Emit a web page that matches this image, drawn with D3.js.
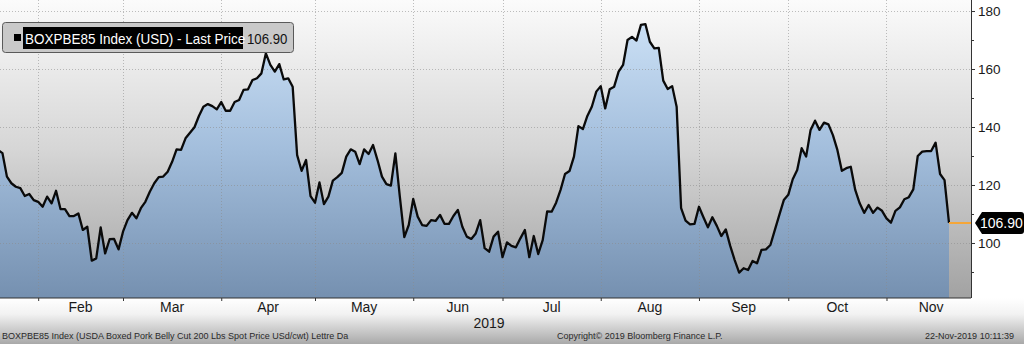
<!DOCTYPE html>
<html lang="en">
<head>
<meta charset="UTF-8">
<title>BOXPBE85 Index</title>
<script src="https://cdn.jsdelivr.net/npm/d3@7"></script>
<style>
  html, body { margin: 0; padding: 0; background: #fff; }
  svg { display: block; font-family: "Liberation Sans", Arial, sans-serif; }
  .grid line { stroke: #8a8a8a; stroke-opacity: .55; stroke-dasharray: 1 2; }
  .yaxis text { font-size: 13.5px; fill: #1a1a1a; }
  .yaxis path, .yaxis line, .xaxis path, .xaxis line { stroke: #333; }
</style>
</head>
<body>
<div id="chart"></div>
<script>
// daily closes, one per trading day (18-Jan-2019 .. 21-Nov-2019)
var prices = [
  132.1, 131, 122.9, 120.6, 119.4, 118.9, 116.2, 116.9, 114.8, 114.2,
  112.5, 116, 113.7, 118, 111.7, 111.7, 109.3, 109.3, 110.2, 104.5,
  105.6, 93.9, 94.7, 105.4, 96.4, 101.3, 101.4, 97.8, 103.9, 107.9,
  110.4, 108.5, 112, 114.2, 117.7, 120.6, 122.7, 122.9, 124.6, 128,
  132.3, 132.1, 136.1, 138, 139.9, 143.8, 147, 147.9, 147.2, 146.1,
  148.6, 145.6, 145.6, 148.6, 149.3, 152.8, 153, 156.2, 156.8, 158.5,
  165.4, 161.4, 159.1, 161.7, 156.4, 156.8, 153.9, 130.3, 124.9, 128.6,
  116.2, 113.9, 120.9, 113.4, 116, 121.5, 122.7, 124.2, 129.8, 132.3,
  131.5, 127.2, 132.3, 130.7, 133.8, 128.6, 122.9, 120.3, 119.8, 130.9,
  116, 102, 106.2, 115.2, 109.1, 106.2, 105.9, 107.9, 107.6, 109.7,
  106.6, 106.6, 109.3, 111.4, 105.6, 102.2, 101.4, 103.3, 107.9, 98.2,
  97, 102.2, 103.9, 95.1, 100.2, 99, 98.5, 101.6, 104.5, 95.1,
  102.4, 96.2, 101, 110.9, 110.8, 113.9, 118.3, 123.8, 124.8, 129.8,
  140.3, 139.3, 143.8, 147, 152.2, 154.1, 146.4, 153, 153.9, 159.1,
  161.4, 170, 171.1, 169.8, 175.2, 175.5, 169.4, 167.1, 167.3, 156,
  153.1, 154.1, 147, 112, 107.7, 106.4, 106.6, 112.5, 108.9, 105.4,
  108.9, 105.9, 102.4, 104.7, 99, 94.1, 89.8, 91.3, 90.7, 93.8,
  93, 97.6, 97.8, 99.3, 104.5, 109.7, 114.8, 116.6, 122, 125.2,
  132.7, 129.8, 139, 142.2, 139, 141.5, 140.9, 137.2, 132.1, 124.9,
  125.8, 126.3, 118.3, 113.7, 110.4, 113.1, 110.4, 112.2, 111.1, 108.5,
  107, 111.1, 112.3, 115.1, 115.8, 118.5, 130, 131.5, 131.7, 131.7,
  134.6, 123.8, 121.7, 106.9
];
// trading-day index of the first session of each month
var monthStart = [9, 28, 50, 71, 93, 113, 135, 157, 177, 199, 219];
var monthLabels = ["Feb", "Mar", "Apr", "May", "Jun", "Jul", "Aug", "Sep", "Oct", "Nov"];
var yMajor = [100, 120, 140, 160, 180];
var yMinor = [90, 110, 130, 150, 170];
var lastPrice = 106.90;

var W = 1024, H = 344;
var plotR = 971, plotB = 298;

var svg = d3.select("#chart").append("svg")
    .attr("width", W).attr("height", H);

var defs = svg.append("defs");
function grad(id, y1, y2, stops) {
    var g = defs.append("linearGradient").attr("id", id)
        .attr("gradientUnits", "userSpaceOnUse")
        .attr("x1", 0).attr("x2", 0).attr("y1", y1).attr("y2", y2);
    stops.forEach(function (s) {
        g.append("stop").attr("offset", s[0]).attr("stop-color", s[1]);
    });
}
grad("bgPlot", 0, plotB, [[0, "#fbfbfb"], [0.5, "#d6d6d6"], [1, "#a2a2a2"]]);
grad("bgArea", 0, plotB, [[0, "#d2e6fa"], [0.5, "#a3bedc"], [1, "#7590b0"]]);
grad("bgFoot", plotB, H, [[0, "#ffffff"], [0.35, "#f2f2f2"], [1, "#a9a9a9"]]);

svg.append("rect").attr("x", 0).attr("y", plotB).attr("width", W).attr("height", H - plotB)
    .attr("fill", "url(#bgFoot)");
svg.append("rect").attr("x", 0).attr("y", 0).attr("width", plotR).attr("height", plotB)
    .attr("fill", "url(#bgPlot)");

var x = d3.scaleLinear().domain([0, prices.length - 1]).range([-2, 949]);
var y = d3.scaleLinear().domain([81.03, 183.8]).range([plotB, 0]);

var area = d3.area()
    .x(function (d, i) { return x(i); })
    .y0(plotB)
    .y1(function (d) { return y(d); });
var line = d3.line()
    .x(function (d, i) { return x(i); })
    .y(function (d) { return y(d); });

svg.append("path").datum(prices).attr("d", area).attr("fill", "url(#bgArea)");

// grid
var grid = svg.append("g").attr("class", "grid");
grid.selectAll(".v").data(monthStart.slice(0, 10)).enter().append("line")
    .attr("x1", function (d) { return Math.round(x(d)) + .5; })
    .attr("x2", function (d) { return Math.round(x(d)) + .5; })
    .attr("y1", 0).attr("y2", plotB);
grid.selectAll(".h").data(yMajor).enter().append("line")
    .attr("x1", 0).attr("x2", plotR)
    .attr("y1", function (d) { return Math.round(y(d)) + .5; })
    .attr("y2", function (d) { return Math.round(y(d)) + .5; });

svg.append("path").datum(prices).attr("d", line)
    .attr("fill", "none").attr("stroke", "#0a0a0a")
    .attr("stroke-width", 2.3).attr("stroke-linejoin", "round");

// last price marker line
svg.append("line")
    .attr("x1", x(prices.length - 1)).attr("x2", plotR)
    .attr("y1", y(lastPrice)).attr("y2", y(lastPrice))
    .attr("stroke", "#f5a638").attr("stroke-width", 2);

// x axis
svg.append("g").attr("class", "xaxis")
    .attr("transform", "translate(0," + plotB + ")")
    .call(d3.axisBottom(x).tickValues(monthStart.slice(0, 10)).tickSize(3).tickFormat(""))
    .call(function (g) { g.select(".domain").attr("d", "M0,0H" + plotR); });

svg.append("g").selectAll("text").data(monthLabels).enter().append("text")
    .attr("x", function (d, i) { return (x(monthStart[i]) + x(monthStart[i + 1])) / 2; })
    .attr("y", 312).attr("text-anchor", "middle")
    .attr("font-size", "14px").attr("fill", "#1a1a1a")
    .text(function (d) { return d; });
svg.append("text").attr("x", 489).attr("y", 328).attr("text-anchor", "middle")
    .attr("font-size", "14px").attr("fill", "#1a1a1a").text("2019");

// y axis (right)
svg.append("g").attr("class", "yaxis")
    .attr("transform", "translate(" + plotR + ",0)")
    .call(d3.axisRight(y).tickValues(yMajor).tickSize(4).tickPadding(3))
    .call(function (g) { g.select(".domain").attr("d", "M0.5,0V" + plotB); });
svg.append("g").attr("class", "yaxis")
    .attr("transform", "translate(" + plotR + ",0)")
    .call(d3.axisRight(y).tickValues(yMinor).tickSize(3).tickFormat(""))
    .call(function (g) { g.select(".domain").remove(); });

// last price tag
var ty = y(lastPrice);
svg.append("path")
    .attr("d", "M975," + ty + "L982," + (ty - 11) + "H1021Q1024," + (ty - 11) + " 1024," + (ty - 8) +
        "V" + (ty + 8) + "Q1024," + (ty + 11) + " 1021," + (ty + 11) + "H982Z")
    .attr("fill", "#000");
svg.append("text").attr("x", 980).attr("y", ty + 5)
    .attr("font-size", "14px").attr("fill", "#fff").text(lastPrice.toFixed(2));

// legend
var lg = svg.append("g");
lg.append("rect").attr("x", 2.5).attr("y", 22.5).attr("width", 291).attr("height", 30)
    .attr("rx", 3).attr("fill", "#c9c9c9").attr("stroke", "#5a5a5a");
lg.append("rect").attr("x", 14).attr("y", 34).attr("width", 7).attr("height", 7).attr("fill", "#000");
lg.append("rect").attr("x", 23).attr("y", 27).attr("width", 220).attr("height", 22).attr("fill", "#000");
lg.append("text").attr("transform", "translate(25,44) scale(0.9,1)")
    .attr("font-size", "15px").attr("fill", "#fff")
    .text("BOXPBE85 Index (USD) - Last Price");
lg.append("text").attr("transform", "translate(247,44) scale(0.88,1)")
    .attr("font-size", "15px").attr("fill", "#111")
    .text(lastPrice.toFixed(2));

// footer
var foot = svg.append("g").attr("font-size", "9px").attr("fill", "#2a2a2a");
foot.append("text").attr("x", 2).attr("y", 339)
    .text("BOXPBE85 Index (USDA Boxed Pork Belly Cut 200 Lbs Spot Price USd/cwt) Lettre  Da");
foot.append("text").attr("x", 557).attr("y", 339)
    .text("Copyright\u00a9 2019 Bloomberg Finance L.P.");
foot.append("text").attr("x", 1014).attr("y", 339).attr("text-anchor", "end")
    .text("22-Nov-2019 10:11:39");
</script>
</body>
</html>
